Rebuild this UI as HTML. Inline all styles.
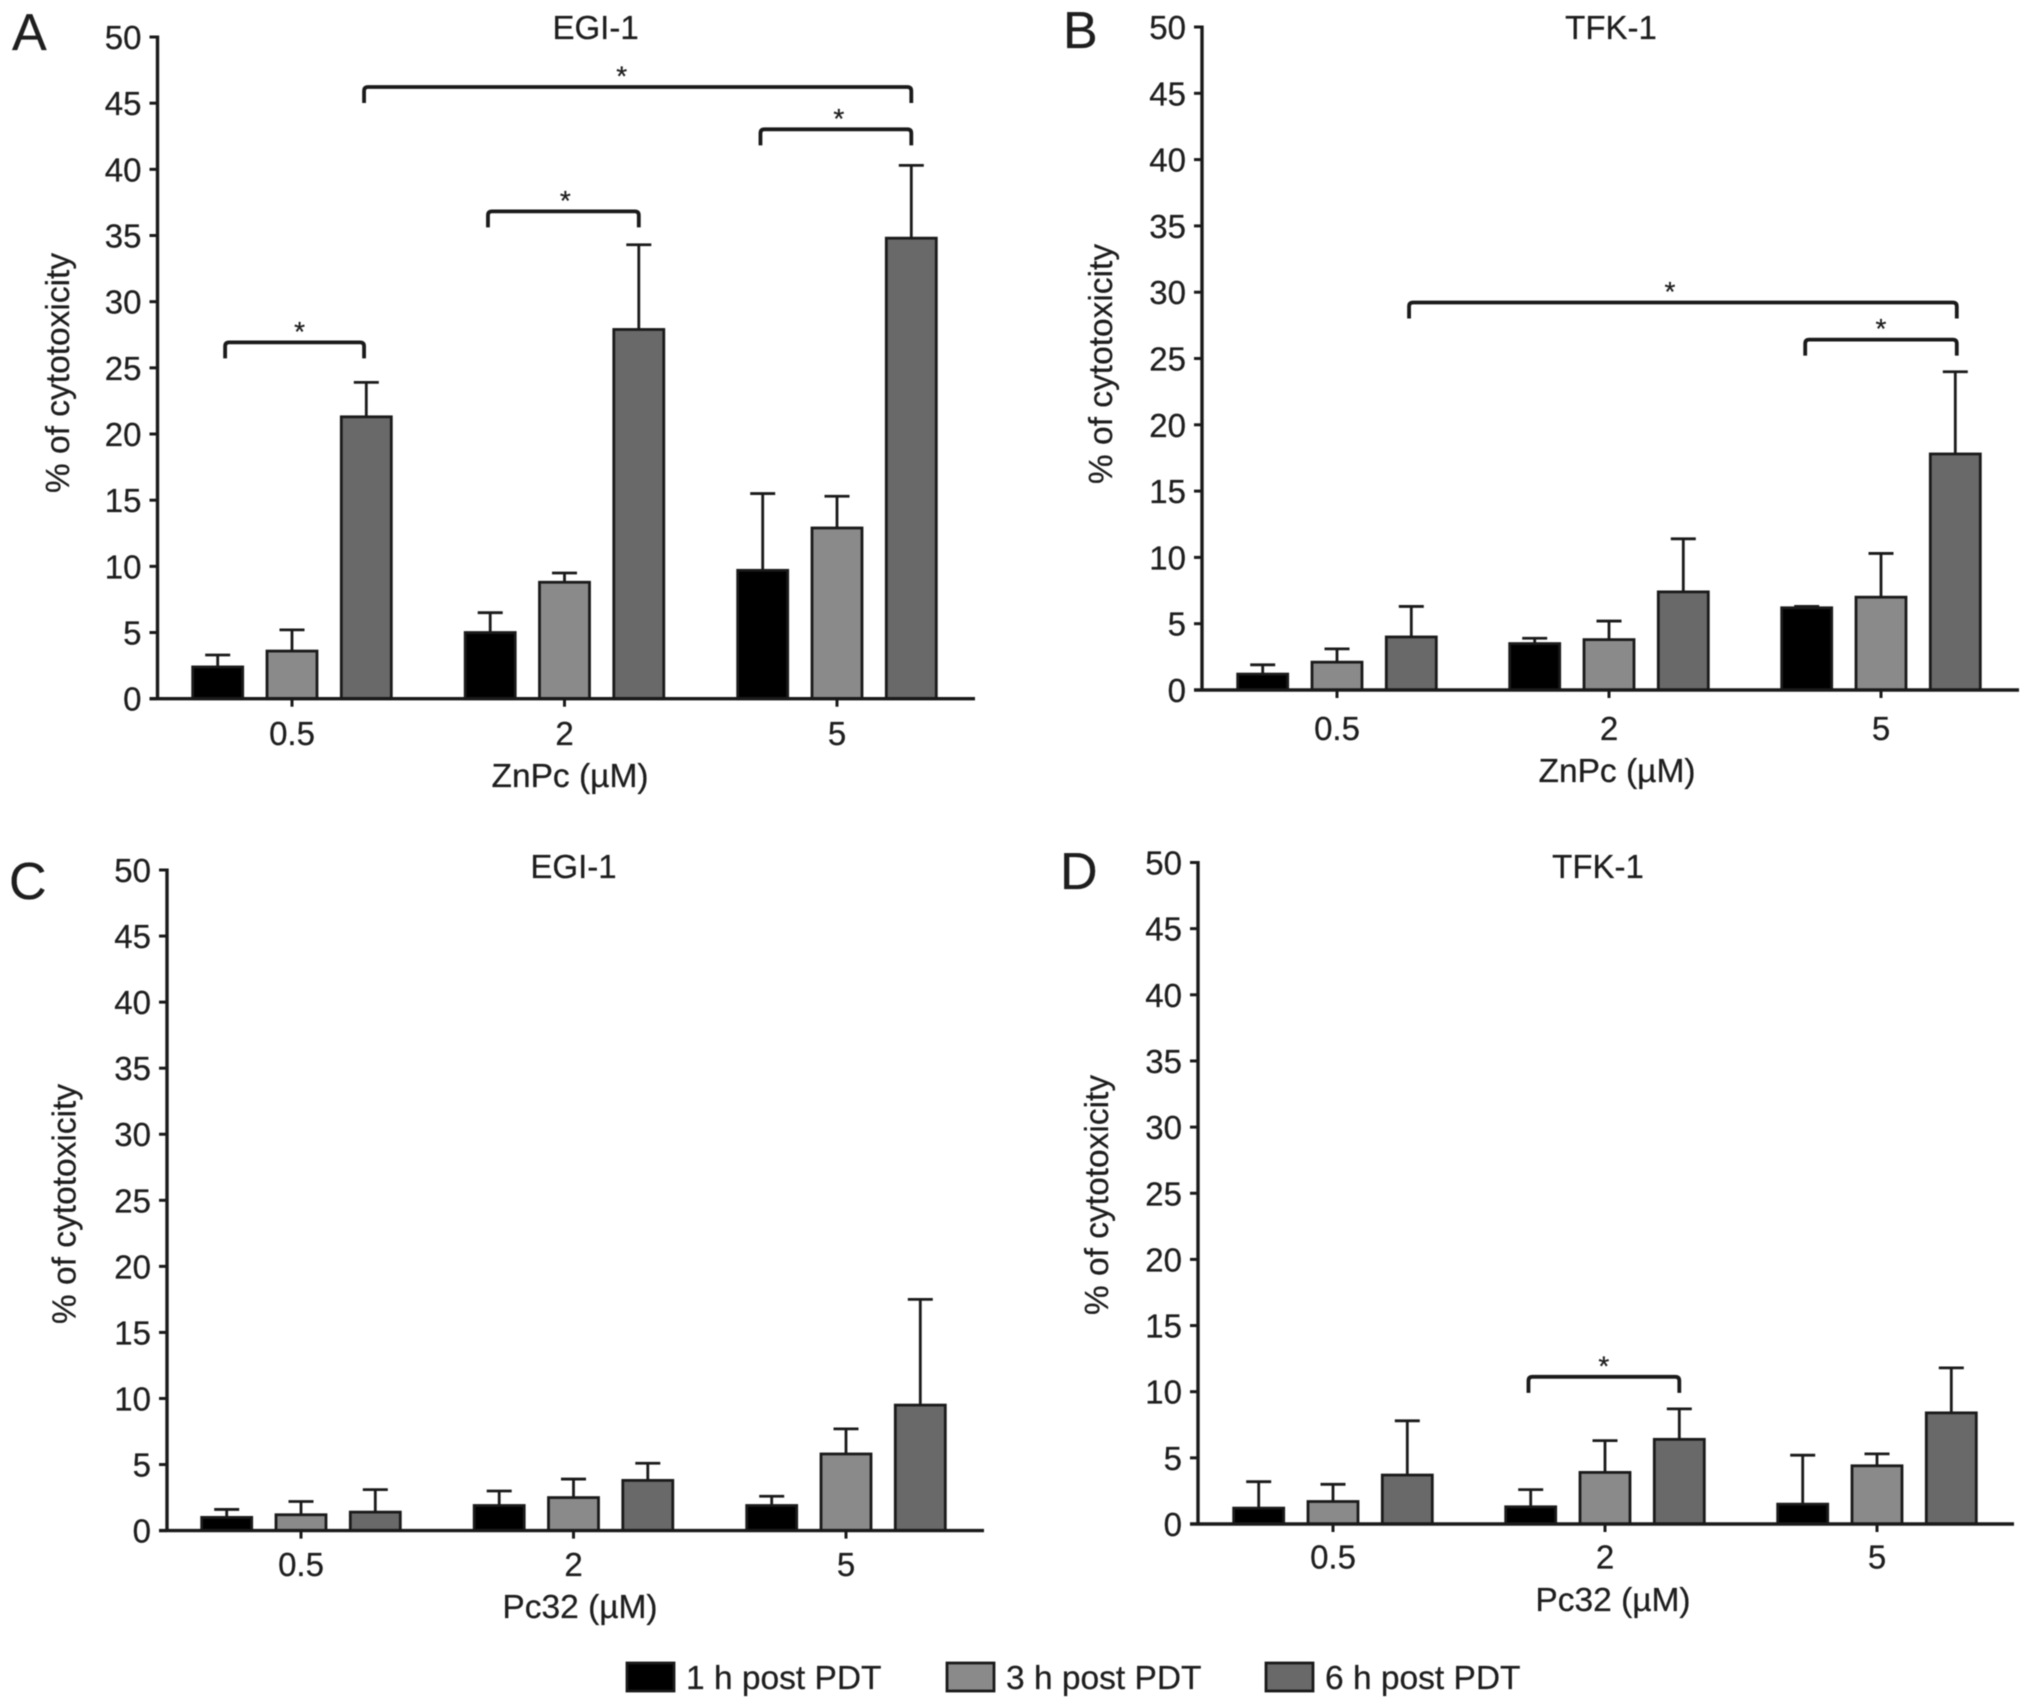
<!DOCTYPE html>
<html lang="en">
<head>
<meta charset="utf-8">
<title>Cytotoxicity of ZnPc and Pc32 post PDT</title>
<style>
  html, body { margin: 0; padding: 0; background: #fff; }
  svg { display: block; filter: blur(0.6px); }
  text { font-family: "Liberation Sans", sans-serif; fill: #1e1e1e; stroke: #1e1e1e; stroke-width: 0.25px; }
</style>
</head>
<body>
<svg id="figure" xmlns="http://www.w3.org/2000/svg" width="2032" height="1708" viewBox="0 0 2032 1708"></svg>
<script>
// Shared labels
const categories = ['0.5', '2', '5'];
const yTickLabels = [0, 5, 10, 15, 20, 25, 30, 35, 40, 45, 50];
const seriesNames = ['1 h post PDT', '3 h post PDT', '6 h post PDT'];

// Panel A: EGI-1 / ZnPc
const panelAMean1h = [2.4, 5.0, 9.7];
const panelAMean3h = [3.6, 8.8, 12.9];
const panelAMean6h = [21.3, 27.9, 34.8];
const panelAUpper1h = [3.3, 6.5, 15.5];
const panelAUpper3h = [5.2, 9.5, 15.3];
const panelAUpper6h = [23.9, 34.3, 40.3];
// from group, from bar, to group, to bar, level, star shift
const panelABrackets = [[0, 1.97, 2, 2, 46.3, -16], [2, -0.03, 2, 2, 43.1, 3], [1, -0.03, 1, 2, 36.9, 2], [0, 0.1, 0, 1.97, 27.0, 5]];

// Panel B: TFK-1 / ZnPc
const panelBMean1h = [1.2, 3.5, 6.2];
const panelBMean3h = [2.1, 3.8, 7.0];
const panelBMean6h = [4.0, 7.4, 17.8];
const panelBUpper1h = [1.9, 3.9, 6.3];
const panelBUpper3h = [3.1, 5.2, 10.3];
const panelBUpper6h = [6.3, 11.4, 24.0];
const panelBBrackets = [[0, 1.97, 2, 2.02, 29.3, -13], [2, -0.02, 2, 2.02, 26.5, 0]];

// Panel C: EGI-1 / Pc32
const panelCMean1h = [1.0, 1.9, 1.9];
const panelCMean3h = [1.2, 2.5, 5.8];
const panelCMean6h = [1.4, 3.8, 9.5];
const panelCUpper1h = [1.6, 3.0, 2.6];
const panelCUpper3h = [2.2, 3.9, 7.7];
const panelCUpper6h = [3.1, 5.1, 17.5];
const panelCBrackets = [];

// Panel D: TFK-1 / Pc32
const panelDMean1h = [1.2, 1.3, 1.5];
const panelDMean3h = [1.7, 3.9, 4.4];
const panelDMean6h = [3.7, 6.4, 8.4];
const panelDUpper1h = [3.2, 2.6, 5.2];
const panelDUpper3h = [3.0, 6.3, 5.3];
const panelDUpper6h = [7.8, 8.7, 11.8];
const panelDBrackets = [[1, -0.03, 1, 2, 11.2, 0]];

const SVG_NS = 'http://www.w3.org/2000/svg';
const figure = document.getElementById('figure');
const barFills = ['#000000', '#8a8a8a', '#696969'];
const INK = '#1a1a1a';

function make(parent, tag, attrs, content) {
  const el = document.createElementNS(SVG_NS, tag);
  for (const key in attrs) el.setAttribute(key, attrs[key]);
  if (content !== undefined) el.textContent = content;
  parent.appendChild(el);
  return el;
}

function drawPanel(cfg) {
  const g = make(figure, 'g', {});
  
  

  const yScale = v => cfg.y0 - (v / 50) * (cfg.y0 - cfg.y50);
  const xScale = i => cfg.tick0 + i * cfg.tickStep;
  const barX = (group, bar) => xScale(group) + (bar - 1) * 74.3;
  const barWidth = 50;

  // bars and error bars
  cfg.means.forEach((series, s) => {
    series.forEach((value, i) => {
      const cx = barX(i, s);
      const top = yScale(value);
      const upper = yScale(cfg.uppers[s][i]);

      const stem = make(g, 'line', { x1: cx, x2: cx, y1: top, y2: upper, stroke: INK, 'stroke-width': 2.8 });
      
      

      const cap = make(g, 'line', { x1: cx - 12.5, x2: cx + 12.5, y1: upper, y2: upper, stroke: INK, 'stroke-width': 2.8 });
      
      

      const bar = make(g, 'rect', {
        x: cx - barWidth / 2, y: top, width: barWidth, height: cfg.y0 - top,
        fill: barFills[s], stroke: INK, 'stroke-width': 2.8
      });
      
      
    });
  });

  // y axis
  const yAxis = make(g, 'line', { x1: cfg.ox, x2: cfg.ox, y1: yScale(50) - 1.5, y2: cfg.y0, stroke: INK, 'stroke-width': 3.4 });
  
  

  yTickLabels.forEach(v => {
    const tick = make(g, 'line', { x1: cfg.ox - 8, x2: cfg.ox, y1: yScale(v), y2: yScale(v), stroke: INK, 'stroke-width': 3 });
    
    

    const label = make(g, 'text', { x: cfg.ox - 16, y: yScale(v) + 12, 'text-anchor': 'end', 'font-size': 33 }, String(v));
    
    
  });

  // x axis
  const xAxis = make(g, 'line', { x1: cfg.ox - 8, x2: cfg.xEnd, y1: cfg.y0, y2: cfg.y0, stroke: INK, 'stroke-width': 3.4 });
  
  

  categories.forEach((c, i) => {
    const tick = make(g, 'line', { x1: xScale(i), x2: xScale(i), y1: cfg.y0, y2: cfg.y0 + 8, stroke: INK, 'stroke-width': 3 });
    
    

    const label = make(g, 'text', { x: xScale(i), y: cfg.catY, 'text-anchor': 'middle', 'font-size': 33 }, c);
    
    
  });

  // significance brackets
  cfg.brackets.forEach(b => {
    const x1 = barX(b[0], b[1]);
    const x2 = barX(b[2], b[3]);
    const y = yScale(b[4]) + 1;
    const path = make(g, 'path', {
      d: 'M' + x1 + ' ' + (y + 16) + 'V' + (y + 4) + 'Q' + x1 + ' ' + y + ' ' + (x1 + 4) + ' ' + y +
         'H' + (x2 - 4) + 'Q' + x2 + ' ' + y + ' ' + x2 + ' ' + (y + 4) + 'V' + (y + 16),
      fill: 'none', stroke: INK, 'stroke-width': 3.8
    });
    
    

    const star = make(g, 'text', { x: (x1 + x2) / 2 + b[5], y: y - 1.5, 'text-anchor': 'middle', 'font-size': 28 }, '*');
    
    
  });

  // titles and labels
  const title = make(g, 'text', { x: cfg.titleX, y: cfg.titleY, 'text-anchor': 'middle', 'font-size': 33 }, cfg.title);
  
  

  const xTitle = make(g, 'text', { x: cfg.xTitleX, y: cfg.xTitleY, 'text-anchor': 'middle', 'font-size': 33.5 }, cfg.xTitle);
  
  

  const yTitle = make(g, 'text', {
    x: 0, y: 0, 'text-anchor': 'middle', 'font-size': 33.5,
    transform: 'translate(' + cfg.yTitleX + ' ' + cfg.yTitleY + ') rotate(-90)'
  }, '% of cytotoxicity');
  
  

  const letter = make(g, 'text', { x: cfg.letterX, y: cfg.letterY, 'font-size': 52 }, cfg.letter);
  
  
}

drawPanel({
  groupName: 'panel-a', letter: 'A', title: 'EGI-1', xTitle: 'ZnPc (\u00B5M)',
  means: [panelAMean1h, panelAMean3h, panelAMean6h], uppers: [panelAUpper1h, panelAUpper3h, panelAUpper6h], brackets: panelABrackets,
  ox: 157.5, y0: 698.7, y50: 37, xEnd: 975, tick0: 292, tickStep: 272.5,
  catY: 745, xTitleX: 570, xTitleY: 787, titleX: 595.6, titleY: 39, yTitleX: 69, yTitleY: 373, letterX: 12, letterY: 50
});
drawPanel({
  groupName: 'panel-b', letter: 'B', title: 'TFK-1', xTitle: 'ZnPc (\u00B5M)',
  means: [panelBMean1h, panelBMean3h, panelBMean6h], uppers: [panelBUpper1h, panelBUpper3h, panelBUpper6h], brackets: panelBBrackets,
  ox: 1202, y0: 690, y50: 27, xEnd: 2019, tick0: 1337, tickStep: 272,
  catY: 740, xTitleX: 1617, xTitleY: 782, titleX: 1611, titleY: 39, yTitleX: 1112, yTitleY: 364, letterX: 1063, letterY: 48
});
drawPanel({
  groupName: 'panel-c', letter: 'C', title: 'EGI-1', xTitle: 'Pc32 (\u00B5M)',
  means: [panelCMean1h, panelCMean3h, panelCMean6h], uppers: [panelCUpper1h, panelCUpper3h, panelCUpper6h], brackets: panelCBrackets,
  ox: 167, y0: 1530.6, y50: 870, xEnd: 984, tick0: 301, tickStep: 272.5,
  catY: 1576, xTitleX: 580, xTitleY: 1618, titleX: 573.5, titleY: 878, yTitleX: 75.5, yTitleY: 1204, letterX: 9, letterY: 899
});
drawPanel({
  groupName: 'panel-d', letter: 'D', title: 'TFK-1', xTitle: 'Pc32 (\u00B5M)',
  means: [panelDMean1h, panelDMean3h, panelDMean6h], uppers: [panelDUpper1h, panelDUpper3h, panelDUpper6h], brackets: panelDBrackets,
  ox: 1198, y0: 1524, y50: 862.5, xEnd: 2014, tick0: 1333, tickStep: 272,
  catY: 1568.6, xTitleX: 1613, xTitleY: 1611, titleX: 1598, titleY: 878, yTitleX: 1108, yTitleY: 1195, letterX: 1060, letterY: 889
});

// legend
const legend = make(figure, 'g', {});


const legendLefts = [627, 947, 1266];
seriesNames.forEach((name, i) => {
  const swatch = make(legend, 'rect', { x: legendLefts[i], y: 1663, width: 47, height: 28, fill: barFills[i], stroke: INK, 'stroke-width': 2.8 });
  
  

  const label = make(legend, 'text', { x: legendLefts[i] + 59, y: 1689, 'font-size': 33.5 }, name);
  
  
});
</script>
</body>
</html>
